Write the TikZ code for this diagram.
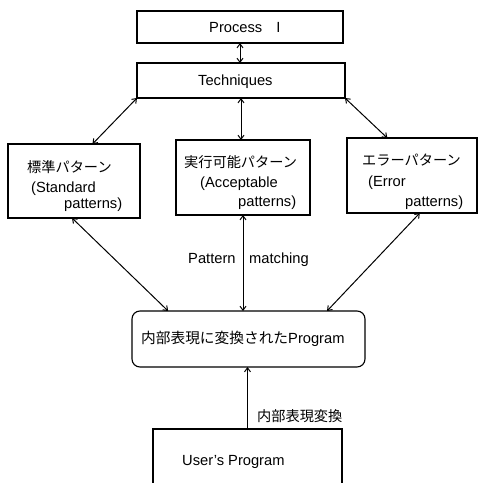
\documentclass[tikz,border=0pt]{standalone}
\usepackage{fontspec}
\setmainfont{Liberation Sans}
\newfontfamily\jpfont{Noto Sans CJK JP}
\usetikzlibrary{arrows.meta,calc}
\begin{document}
\begin{tikzpicture}[x=1pt,y=-1pt,
  box/.style={draw,line width=1.1pt,inner sep=0pt,outer sep=0pt},
  txt/.style={anchor=base west,inner sep=0pt,font=\fontsize{14.7}{17}\selectfont},
  jtxt/.style={anchor=base west,inner sep=0pt,font=\fontsize{14.2}{17}\selectfont\jpfont},
  link/.style={line width=1pt,{Straight Barb[length=4pt,width=6pt]}-{Straight Barb[length=4pt,width=6pt]}},
  uplink/.style={line width=1pt,-{Straight Barb[length=4pt,width=6pt]}}]
\useasboundingbox (0,0) rectangle (480,483);
% boxes
\node[box,minimum width=206pt,minimum height=32pt] (proc) at (240,27) {};
\node[box,minimum width=208pt,minimum height=35pt] (tech) at (241,80.5) {};
\node[box,minimum width=132pt,minimum height=74pt] (std) at (74,181) {};
\node[box,minimum width=134pt,minimum height=75pt] (acc) at (243,177.5) {};
\node[box,minimum width=130pt,minimum height=75pt] (err) at (412,175.5) {};
\node[box,rounded corners=8pt,minimum width=233pt,minimum height=56pt] (prog) at (248.5,339) {};
\begin{scope}
\clip (0,0) rectangle (480,483);
\node[box,minimum width=189pt,minimum height=100pt] (user) at (247.5,479) {};
\end{scope}
% texts
\node[txt] (tproc) at (209,32) {Process\hspace{14pt}I};
\node[txt] (ttech) at (198,85.5) {Techniques};
\node[jtxt] (tstd1) at (27,172.5) {標準パターン};
\node[txt] (tstd2) at (31,192) {(Standard};
\node[txt] (tstd3) at (64,208) {patterns)};
\node[jtxt] (tacc1) at (184,167) {実行可能パターン};
\node[txt] (tacc2) at (200,187) {(Acceptable};
\node[txt] (tacc3) at (238,206.5) {patterns)};
\node[jtxt] (terr1) at (362,165.5) {エラーパターン};
\node[txt] (terr2) at (368,186) {(Error};
\node[txt] (terr3) at (405,206) {patterns)};
\node[txt] (tpat) at (188,263) {Pattern};
\node[txt] (tmat) at (249,263) {matching};
\node[txt] (tprog) at (141,343) {{\jpfont 内部表現に変換された}Program};
\node[jtxt] (tconv) at (257,421.5) {内部表現変換};
\node[txt] (tuser) at (182,465) {User\symbol{39}s Program};
% connectors
\draw[link] (proc.south) -- (proc.south |- tech.north);
\draw[link] (tech.south west) -- ($(std.north west)!0.64!(std.north east)$);
\draw[link] (tech.south) -- (tech.south |- acc.north);
\draw[link] (tech.south east) -- ($(err.north west)!0.31!(err.north east)$);
\draw[link] ($(std.south west)!0.485!(std.south east)$) -- ($(prog.north west)!0.155!(prog.north east)$);
\draw[link] (acc.south) -- (acc.south |- prog.north);
\draw[link] ($(err.south west)!0.56!(err.south east)$) -- ($(prog.north west)!0.837!(prog.north east)$);
\draw[uplink] (user.north) -- (user.north |- prog.south);
\end{tikzpicture}
\end{document}
